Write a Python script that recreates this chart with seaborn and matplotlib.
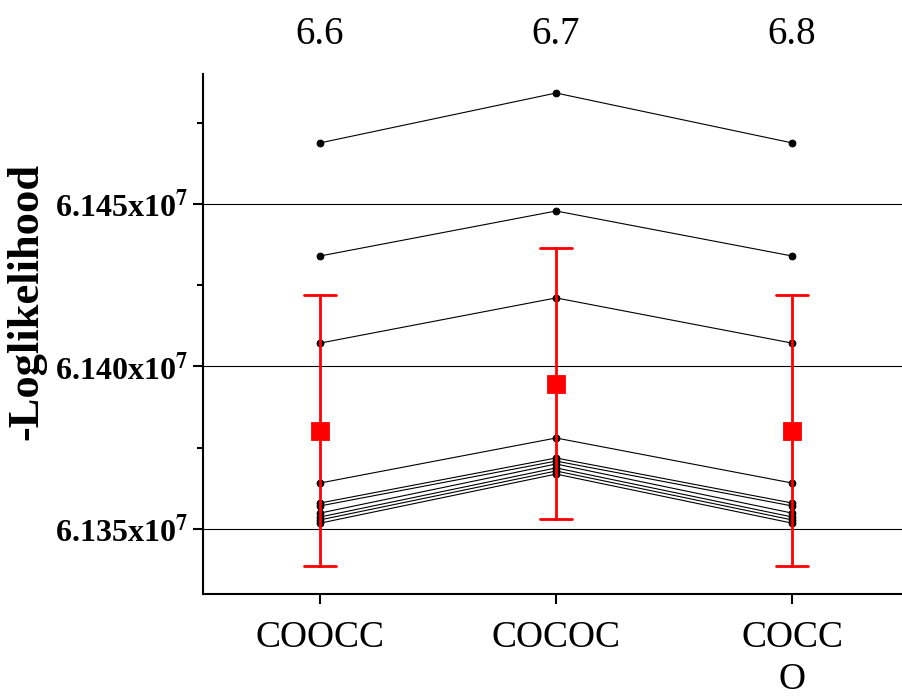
import numpy as np
import pandas as pd
import matplotlib.pyplot as plt
import seaborn as sns
from matplotlib.ticker import AutoMinorLocator

# modelos no eixo x e rotulos do eixo de cima
modelos = ['COOCC', 'COCOC', 'COCC\nO']
rotulos_topo = ['6.6', '6.7', '6.8']

# -loglikelihood de cada rodada (10 rodadas por modelo)
valores_coocc = [61468800, 61434000, 61407200, 61364150, 61358000,
                 61357100, 61354900, 61353700, 61352800, 61351800]
valores_cococ = [61484150, 61447850, 61421100, 61378000, 61371850,
                 61370900, 61370000, 61368800, 61367850, 61366900]
valores_coccO = [61468800, 61434000, 61407200, 61364150, 61358000,
                 61357100, 61354900, 61353700, 61352800, 61351800]

yticks = [6.135e7, 6.140e7, 6.145e7]
ytick_labels = [r'6.135x10$^{\mathbf{7}}$', r'6.140x10$^{\mathbf{7}}$', r'6.145x10$^{\mathbf{7}}$']

n = len(valores_coocc)
df = pd.DataFrame({
    'modelo': np.repeat(modelos, n),
    'rodada': np.tile(np.arange(n), len(modelos)),
    'valor': np.concatenate([valores_coocc, valores_cococ, valores_coccO]),
})

sns.set_style('ticks', {'axes.edgecolor': 'black', 'xtick.color': 'black',
                        'ytick.color': 'black', 'text.color': 'black',
                        'axes.labelcolor': 'black'})
plt.rcParams['font.family'] = ['Liberation Serif', 'DejaVu Serif']
plt.rcParams['mathtext.fontset'] = 'stix'

fig = plt.figure(figsize=(9.03, 7), dpi=100)
ax = fig.add_axes([203 / 903, 1 - 594 / 700, 1 - 203 / 903, 520 / 700])

# linhas pretas: uma por rodada
sns.pointplot(data=df, x='modelo', y='valor', hue='rodada',
              palette=['black'] * n, markers='o', errorbar=None,
              legend=False, markersize=5, linewidth=0.8, ax=ax)

# media e desvio padrao em vermelho
sns.pointplot(data=df, x='modelo', y='valor', color='red', markers='s',
              linestyle='none', errorbar='sd', capsize=0.135,
              markersize=11, err_kws={'linewidth': 2}, ax=ax)

ax.set_xlim(-0.496, 2.47)
ax.set_ylim(6.133e7, 6.149e7)
ax.set_yticks(yticks, ytick_labels, fontweight='bold')
ax.yaxis.set_minor_locator(AutoMinorLocator(2))
ax.grid(axis='y', which='major', color='black', linewidth=0.8)
ax.tick_params(axis='y', which='major', length=7, width=1.5, labelsize=23)
ax.tick_params(axis='y', which='minor', length=4, width=1.5)
ax.tick_params(axis='x', length=7, width=1.5, labelsize=27, pad=12)
for lbl in ax.get_xticklabels():
    lbl.set_linespacing(1.3)

ax.set_xlabel('')
ax.set_ylabel('-Loglikelihood', fontsize=32, fontweight='bold')
ax.yaxis.set_label_coords(-0.224, 0.563)

ax.spines[['top', 'right']].set_visible(False)
ax.spines[['left', 'bottom']].set_linewidth(1.5)

topo = ax.secondary_xaxis('top')
topo.set_xticks([0, 1, 2], rotulos_topo)
topo.tick_params(length=0, labelsize=28, pad=15)
topo.spines['top'].set_visible(False)

fig.savefig('out.png', dpi=100)
